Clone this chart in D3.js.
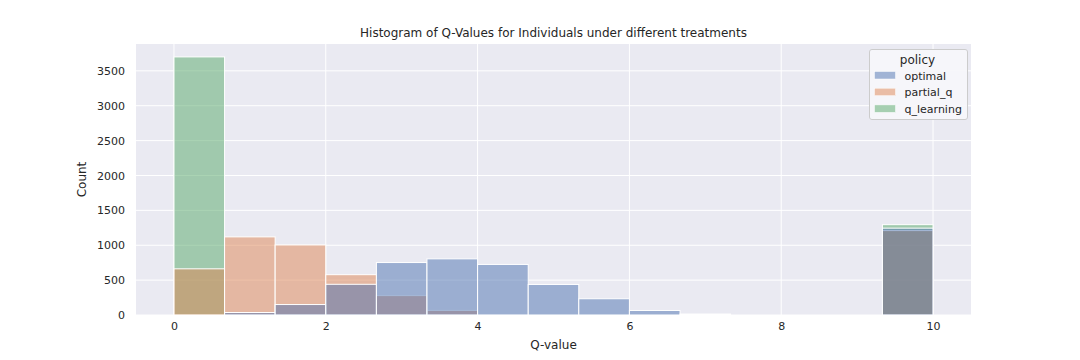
<!DOCTYPE html>
<html>
<head>
<meta charset="utf-8">
<script src="https://cdn.jsdelivr.net/npm/d3@7"></script>
<style>
  body { margin: 0; background: #fff; }
  text { font-family: "DejaVu Sans", sans-serif; fill: #262626; }
</style>
</head>
<body>
<div id="chart"></div>
<script>
"use strict";

// histogram bins (Q-value edges) and counts per policy
var binEdges = [0, 0.667, 1.333, 2, 2.667, 3.333, 4, 4.667, 5.333, 6, 6.667, 7.333, 8, 8.667, 9.333, 10];
var policies = ["optimal", "partial_q", "q_learning"];
var optimal    = [0, 36, 150, 440, 752, 805, 725, 438, 233, 65, 14, 0, 0, 0, 1245];
var partial_q  = [662, 1120, 1005, 578, 278, 66, 8, 0, 0, 0, 0, 0, 0, 0, 1210];
var q_learning = [3700, 0, 0, 0, 0, 0, 0, 0, 0, 0, 0, 0, 0, 0, 1295];
var xTicks = [0, 2, 4, 6, 8, 10];
var yTicks = [0, 500, 1000, 1500, 2000, 2500, 3000, 3500];

var counts = { optimal: optimal, partial_q: partial_q, q_learning: q_learning };
var colors = { optimal: "#4C72B0", partial_q: "#DD8452", q_learning: "#55A868" };

var W = 1080, H = 360;
var margin = { top: 44, right: 109, bottom: 45, left: 136 };
var w = W - margin.left - margin.right;
var h = H - margin.top - margin.bottom;

var svg = d3.select("#chart").append("svg")
    .attr("width", W)
    .attr("height", H);

var g = svg.append("g")
    .attr("transform", "translate(" + margin.left + "," + margin.top + ")");

var x = d3.scaleLinear().domain([-0.5, 10.5]).range([0, w]);
var y = d3.scaleLinear().domain([0, 3885]).range([h, 0]);

// background + grid
g.append("rect").attr("width", w).attr("height", h).attr("fill", "#EAEAF2");

g.append("g").selectAll("line").data(xTicks).join("line")
    .attr("x1", d => x(d)).attr("x2", d => x(d))
    .attr("y1", 0).attr("y2", h)
    .attr("stroke", "#fff").attr("stroke-width", 1);

g.append("g").selectAll("line").data(yTicks).join("line")
    .attr("x1", 0).attr("x2", w)
    .attr("y1", d => y(d)).attr("y2", d => y(d))
    .attr("stroke", "#fff").attr("stroke-width", 1);

// bars: last policy drawn first so optimal ends up on top
var bars = g.append("g");
policies.slice().reverse().forEach(function(p) {
  var data = counts[p].map((c, i) => ({ x0: binEdges[i], x1: binEdges[i + 1], c: c }))
                      .filter(d => d.c > 0);
  bars.append("g").selectAll("rect").data(data).join("rect")
      .attr("x", d => x(d.x0))
      .attr("y", d => y(d.c))
      .attr("width", d => x(d.x1) - x(d.x0))
      .attr("height", d => y(0) - y(d.c))
      .attr("fill", colors[p])
      .attr("fill-opacity", 0.5)
      .attr("stroke", "#fff")
      .attr("stroke-width", 1);
});

// axes (no ticks / domain, seaborn darkgrid style)
var xAxis = d3.axisBottom(x).tickValues(xTicks).tickSize(0).tickPadding(7);
var yAxis = d3.axisLeft(y).tickValues(yTicks).tickFormat(d3.format("d")).tickSize(0).tickPadding(11);

var gx = g.append("g").attr("transform", "translate(0," + h + ")").call(xAxis);
var gy = g.append("g").call(yAxis);
[gx, gy].forEach(function(a) {
  a.select(".domain").remove();
  a.selectAll("text").style("font-size", "11px").attr("fill", "#262626");
});

g.append("text")
    .attr("x", w / 2).attr("y", h + 34)
    .attr("text-anchor", "middle")
    .style("font-size", "12px")
    .text("Q-value");

g.append("text")
    .attr("transform", "translate(" + (-50) + "," + (h / 2) + ") rotate(-90)")
    .attr("text-anchor", "middle")
    .style("font-size", "12px")
    .text("Count");

svg.append("text")
    .attr("x", margin.left + w / 2).attr("y", 37)
    .attr("text-anchor", "middle")
    .style("font-size", "12px")
    .text("Histogram of Q-Values for Individuals under different treatments");

// legend
var legend = svg.append("g").attr("transform", "translate(869.5,49.5)");
legend.append("rect")
    .attr("width", 98).attr("height", 70)
    .attr("rx", 2.5)
    .attr("fill", "#EAEAF2").attr("fill-opacity", 0.8)
    .attr("stroke", "#cccccc").attr("stroke-width", 1);
legend.append("rect")
    .attr("x", 0.5).attr("y", 0.5)
    .attr("width", 97).attr("height", 69)
    .attr("rx", 2)
    .attr("fill", "#fff").attr("fill-opacity", 0.55);
legend.append("text")
    .attr("x", 48).attr("y", 14)
    .attr("text-anchor", "middle")
    .style("font-size", "12px")
    .text("policy");

var items = legend.selectAll("g.item").data(policies).join("g")
    .attr("class", "item")
    .attr("transform", (d, i) => "translate(5," + (22 + i * 16.7) + ")");
items.append("rect")
    .attr("width", 21).attr("height", 7.5)
    .attr("fill", d => colors[d]).attr("fill-opacity", 0.5)
    .attr("stroke", "#fff").attr("stroke-width", 0.5);
items.append("text")
    .attr("x", 30).attr("y", 8)
    .style("font-size", "11px")
    .text(d => d);
</script>
</body>
</html>
